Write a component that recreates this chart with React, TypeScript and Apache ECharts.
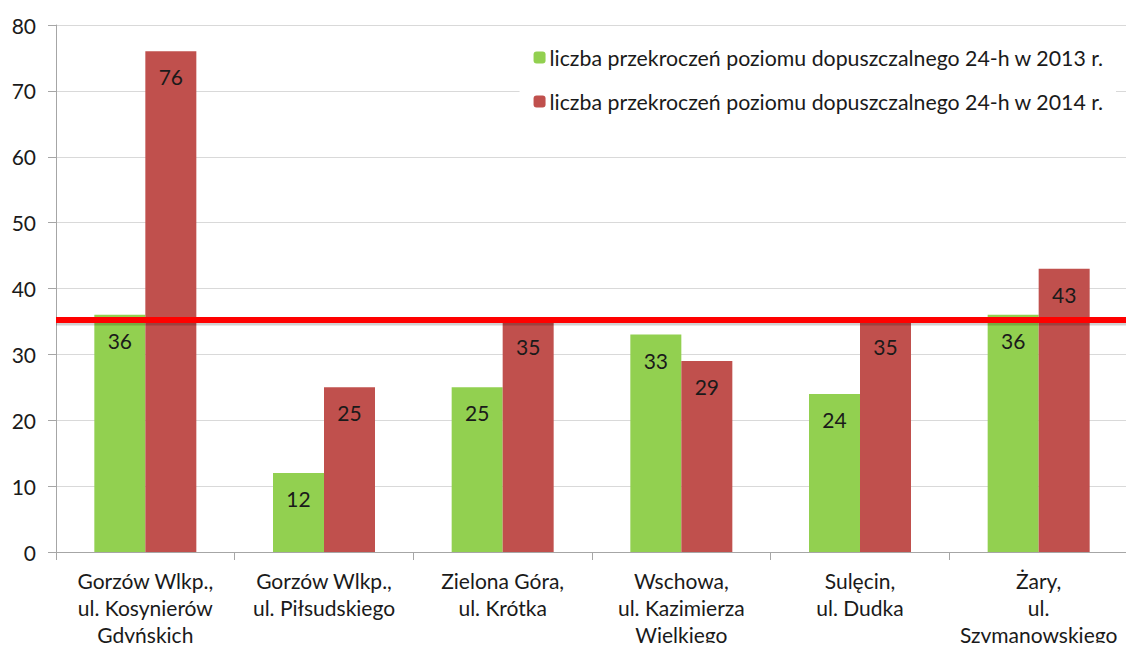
import React, { useEffect, useRef } from "react";
import * as echarts from "echarts";

const categories = [
  "Gorzów Wlkp.,\nul. Kosynierów\nGdyńskich",
  "Gorzów Wlkp.,\nul. Piłsudskiego",
  "Zielona Góra,\nul. Krótka",
  "Wschowa,\nul. Kazimierza\nWielkiego",
  "Sulęcin,\nul. Dudka",
  "Żary,\nul.\nSzymanowskiego",
];
const values2013 = [36, 12, 25, 33, 24, 36];
const values2014 = [76, 25, 35, 29, 35, 43];
const threshold = 35.2;
const yTicks = { min: 0, max: 80, interval: 10 };
const seriesNames = [
  "liczba przekroczeń poziomu dopuszczalnego 24-h w 2013 r.",
  "liczba przekroczeń poziomu dopuszczalnego 24-h w 2014 r.",
];
const lineSpan = [0, 1.006];

const FONT = "Lato, 'Noto Sans', sans-serif";
const FS = 21;

export default function App() {
  const ref = useRef<HTMLDivElement>(null);
  useEffect(() => {
    if (!ref.current) return;
    const chart = echarts.init(ref.current, undefined, { renderer: "svg" });
    const labelCfg = {
      show: true,
      position: "insideTop",
      distance: 15,
      color: "#1a1a1a",
      fontSize: FS,
      fontFamily: FONT,
    };
    chart.setOption({
      animation: false,
      textStyle: { fontFamily: FONT },
      grid: { left: 56, right: 6, top: 25, bottom: 99, containLabel: false },
      legend: {
        orient: "vertical",
        right: 18,
        top: 41,
        itemWidth: 12,
        itemHeight: 12,
        itemGap: 23,
        backgroundColor: "#ffffff",
        padding: [6, 12, 6, 14],
        textStyle: { fontSize: 21.3, color: "#1a1a1a", fontFamily: FONT, padding: [0, 0, 0, -1] },
        data: seriesNames,
      },
      xAxis: [
        {
          type: "category",
          data: categories,
          axisLine: { lineStyle: { color: "#a6a6a6", width: 1 } },
          axisTick: { show: true, length: 8, lineStyle: { color: "#a6a6a6" } },
          axisLabel: {
            interval: 0,
            color: "#1a1a1a",
            fontSize: FS,
            lineHeight: 27,
            margin: 15,
            fontFamily: FONT,
          },
        },
        { type: "value", min: 0, max: 1, show: false },
      ],
      yAxis: {
        type: "value",
        min: yTicks.min,
        max: yTicks.max,
        interval: yTicks.interval,
        axisLine: { show: true, lineStyle: { color: "#a6a6a6" } },
        axisTick: { show: true, length: 8, lineStyle: { color: "#a6a6a6" } },
        splitLine: { lineStyle: { color: "#d9d9d9" } },
        axisLabel: { color: "#1a1a1a", fontSize: FS, margin: 20, fontFamily: FONT },
      },
      series: [
        {
          name: seriesNames[0],
          type: "bar",
          data: values2013,
          barWidth: 51,
          barGap: "0%",
          itemStyle: { color: "#92D050" },
          label: labelCfg,
        },
        {
          name: seriesNames[1],
          type: "bar",
          data: values2014,
          barWidth: 51,
          barGap: "0%",
          itemStyle: { color: "#C0504D" },
          label: labelCfg,
        },
        {
          name: "limit-shadow",
          type: "line",
          xAxisIndex: 1,
          data: lineSpan.map((x) => [x, threshold - 0.35]),
          symbol: "none",
          clip: false,
          silent: true,
          z: 4,
          lineStyle: { color: "rgba(0,0,0,0.18)", width: 6 },
        },
        {
          name: "limit",
          type: "line",
          xAxisIndex: 1,
          data: lineSpan.map((x) => [x, threshold]),
          symbol: "none",
          clip: false,
          silent: true,
          z: 5,
          lineStyle: { color: "#FF0000", width: 6 },
        },
      ],
    });
    return () => chart.dispose();
  }, []);
  return <div ref={ref} style={{ width: 1134, height: 651, margin: -8 }} />;
}
